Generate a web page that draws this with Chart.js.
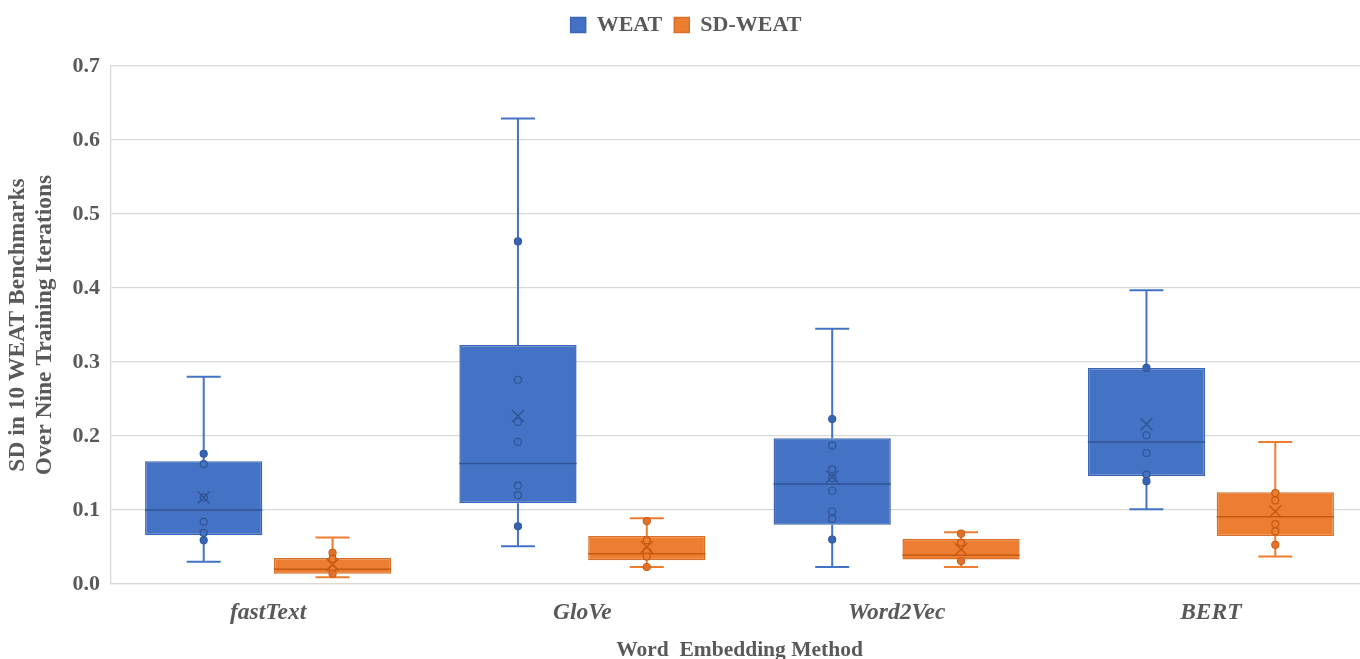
<!DOCTYPE html>
<html>
<head>
<meta charset="utf-8">
<script src="https://cdn.jsdelivr.net/npm/chart.js@4.4.1/dist/chart.umd.min.js"></script>
<style>
  html, body { margin: 0; padding: 0; background: #ffffff; overflow: hidden; }
  #wrap { width: 1368px; height: 659px; position: relative; }
</style>
</head>
<body>
<div id="wrap"><canvas id="boxChart"></canvas></div>
<script>
// Categories and box statistics
const methods = ['fastText', 'GloVe', 'Word2Vec', 'BERT'];
const yTicks = [0, 0.1, 0.2, 0.3, 0.4, 0.5, 0.6, 0.7];

const weatMin    = [0.030, 0.051, 0.023, 0.101];
const weatQ1     = [0.066, 0.109, 0.080, 0.146];
const weatMedian = [0.100, 0.163, 0.135, 0.192];
const weatQ3     = [0.166, 0.323, 0.197, 0.292];
const weatMax    = [0.280, 0.629, 0.345, 0.397];
const weatMean   = [0.117, 0.227, 0.145, 0.216];
const weatPoints = [
    [0.176, 0.162, 0.117, 0.084, 0.069, 0.059],
    [0.463, 0.276, 0.219, 0.192, 0.133, 0.120, 0.078],
    [0.223, 0.187, 0.155, 0.143, 0.126, 0.098, 0.088, 0.060],
    [0.292, 0.201, 0.177, 0.148, 0.139]
];

const sdMin    = [0.009, 0.023, 0.023, 0.037];
const sdQ1     = [0.014, 0.032, 0.033, 0.065];
const sdMedian = [0.020, 0.041, 0.039, 0.091];
const sdQ3     = [0.035, 0.065, 0.061, 0.124];
const sdMax    = [0.063, 0.089, 0.070, 0.192];
const sdMean   = [0.026, 0.050, 0.047, 0.098];
const sdPoints = [
    [0.042, 0.034, 0.020, 0.014],
    [0.085, 0.059, 0.044, 0.037, 0.023],
    [0.068, 0.056, 0.031],
    [0.123, 0.113, 0.081, 0.071, 0.053]
];

const colors = {
    weat: '#4472C4',
    weatDark: '#2F5597',
    weatEdge: '#3A66B5',
    sd: '#ED7D31',
    sdDark: '#C55A11',
    sdEdge: '#D9702A',
    text: '#595959',
    grid: '#d9d9d9'
};

const stats = [
    { min: weatMin, q1: weatQ1, med: weatMedian, q3: weatQ3, max: weatMax, mean: weatMean, pts: weatPoints, line: colors.weat, dark: colors.weatDark },
    { min: sdMin, q1: sdQ1, med: sdMedian, q3: sdQ3, max: sdMax, mean: sdMean, pts: sdPoints, line: colors.sd, dark: colors.sdDark }
];

/**
 * Whiskers, medians, mean markers and points on top of the floating bars
 */
const boxDetails = {
    id: 'boxDetails',
    afterDatasetsDraw(chart) {
        const ctx = chart.ctx;
        const y = chart.scales.y;
        stats.forEach((s, di) => {
            const meta = chart.getDatasetMeta(di);
            meta.data.forEach((bar, j) => {
                const cx = bar.x;
                const half = bar.width / 2;
                const cap = 17;
                ctx.save();
                // whiskers
                ctx.strokeStyle = s.line;
                ctx.lineWidth = 2;
                ctx.beginPath();
                ctx.moveTo(cx, y.getPixelForValue(s.q3[j]));
                ctx.lineTo(cx, y.getPixelForValue(s.max[j]));
                ctx.moveTo(cx - cap, y.getPixelForValue(s.max[j]));
                ctx.lineTo(cx + cap, y.getPixelForValue(s.max[j]));
                ctx.moveTo(cx, y.getPixelForValue(s.q1[j]));
                ctx.lineTo(cx, y.getPixelForValue(s.min[j]));
                ctx.moveTo(cx - cap, y.getPixelForValue(s.min[j]));
                ctx.lineTo(cx + cap, y.getPixelForValue(s.min[j]));
                ctx.stroke();
                // median
                ctx.strokeStyle = s.dark;
                ctx.lineWidth = 1.5;
                ctx.beginPath();
                ctx.moveTo(cx - half, y.getPixelForValue(s.med[j]));
                ctx.lineTo(cx + half, y.getPixelForValue(s.med[j]));
                ctx.stroke();
                // points: hollow inside the box, filled outside
                s.pts[j].forEach(v => {
                    const py = y.getPixelForValue(v);
                    const inside = v > s.q1[j] && v < s.q3[j];
                    ctx.beginPath();
                    ctx.arc(cx, py, 3.5, 0, Math.PI * 2);
                    ctx.lineWidth = 1.2;
                    ctx.fillStyle = s.line;
                    ctx.strokeStyle = s.dark;
                    ctx.fill();
                    ctx.stroke();
                    if (!inside) {
                        ctx.beginPath();
                        ctx.arc(cx, py, 3.2, 0, Math.PI * 2);
                        ctx.fillStyle = di === 0 ? '#3563B5' : '#E0702A';
                        ctx.fill();
                    }
                });
                // mean marker
                const my = y.getPixelForValue(s.mean[j]);
                ctx.strokeStyle = s.dark;
                ctx.lineWidth = 1.5;
                ctx.beginPath();
                ctx.moveTo(cx - 6, my - 6);
                ctx.lineTo(cx + 6, my + 6);
                ctx.moveTo(cx + 6, my - 6);
                ctx.lineTo(cx - 6, my + 6);
                ctx.stroke();
                ctx.restore();
            });
        });
    }
};

// extra room under the legend
const legendGap = {
    id: 'legendGap',
    beforeInit(chart) {
        const fit = chart.legend.fit;
        chart.legend.fit = function () {
            fit.bind(chart.legend)();
            this.height += 20;
        };
    }
};

const serif = "'Liberation Serif', 'Times New Roman', serif";

new Chart(document.getElementById('boxChart'), {
    type: 'bar',
    data: {
        labels: methods,
        datasets: [
            {
                label: 'WEAT',
                data: methods.map((_, i) => [weatQ1[i], weatQ3[i]]),
                backgroundColor: colors.weat,
                borderColor: colors.weatEdge,
                borderWidth: 1.5,
                borderSkipped: false,
                categoryPercentage: 0.82,
                barPercentage: 0.91
            },
            {
                label: 'SD-WEAT',
                data: methods.map((_, i) => [sdQ1[i], sdQ3[i]]),
                backgroundColor: colors.sd,
                borderColor: colors.sdEdge,
                borderWidth: 1.5,
                borderSkipped: false,
                categoryPercentage: 0.82,
                barPercentage: 0.91
            }
        ]
    },
    options: {
        responsive: true,
        maintainAspectRatio: false,
        animation: false,
        layout: { padding: { top: 2, right: 0, left: 4, bottom: 0 } },
        plugins: {
            tooltip: { enabled: false },
            legend: {
                position: 'top',
                labels: {
                    color: colors.text,
                    boxWidth: 15,
                    boxHeight: 15,
                    padding: 12,
                    font: { family: serif, size: 22, weight: 'bold' }
                }
            }
        },
        scales: {
            x: {
                afterFit: s => { s.height = 75; },
                grid: { display: false },
                border: { color: colors.grid, width: 1.3 },
                ticks: {
                    color: colors.text,
                    padding: 7,
                    font: { family: serif, size: 23.5, weight: 'bold', style: 'italic' }
                },
                title: {
                    display: true,
                    text: 'Word  Embedding Method',
                    color: colors.text,
                    padding: { top: 0, bottom: 0 },
                    font: { family: serif, size: 21.5, weight: 'bold', lineHeight: 0.75 }
                }
            },
            y: {
                min: 0,
                max: 0.7,
                afterFit: s => { s.width = 107; },
                afterBuildTicks: axis => { axis.ticks = yTicks.map(v => ({ value: v })); },
                grid: { color: colors.grid, lineWidth: 1.3, drawTicks: false },
                border: { color: colors.grid, width: 1.3 },
                ticks: {
                    color: colors.text,
                    padding: 11,
                    font: { family: serif, size: 22, weight: 'bold' },
                    callback: v => v.toFixed(1)
                },
                title: {
                    display: true,
                    text: ['SD in 10 WEAT Benchmarks', 'Over Nine Training Iterations'],
                    color: colors.text,
                    padding: { top: 0, bottom: 4 },
                    font: { family: serif, size: 23.5, weight: 'bold', lineHeight: 1.15 }
                }
            }
        }
    },
    plugins: [boxDetails, legendGap]
});
</script>
</body>
</html>
